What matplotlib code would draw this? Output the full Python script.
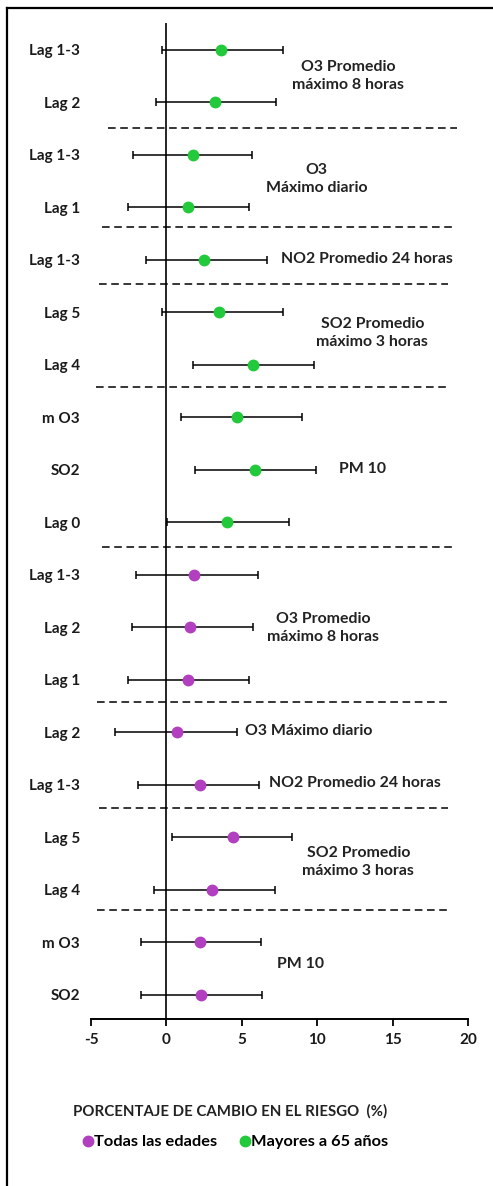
import matplotlib
matplotlib.use('Agg')
import matplotlib.pyplot as plt
from matplotlib.lines import Line2D

plt.rcParams['font.family'] = ['Lato', 'DejaVu Sans']
plt.rcParams['font.weight'] = 'bold'

# Datos: porcentaje de cambio en el riesgo (estimacion e IC 95%)
etiquetas = ['Lag 1-3', 'Lag 2', 'Lag 1-3', 'Lag 1', 'Lag 1-3', 'Lag 5', 'Lag 4',
             'm O3', 'SO2', 'Lag 0',
             'Lag 1-3', 'Lag 2', 'Lag 1', 'Lag 2', 'Lag 1-3', 'Lag 5', 'Lag 4',
             'm O3', 'SO2']
estimacion = [3.65, 3.2, 1.75, 1.45, 2.5, 3.5, 5.75, 4.7, 5.85, 4.05,
              1.85, 1.55, 1.45, 0.7, 2.2, 4.4, 3.0, 2.2, 2.3]
lim_inf = [-0.3, -0.7, -2.2, -2.55, -1.35, -0.3, 1.75, 0.95, 1.9, 0.05,
           -2.0, -2.3, -2.55, -3.4, -1.9, 0.4, -0.85, -1.7, -1.7]
lim_sup = [7.7, 7.3, 5.7, 5.5, 6.7, 7.75, 9.8, 9.0, 9.95, 8.15,
           6.05, 5.75, 5.5, 4.65, 6.15, 8.35, 7.2, 6.25, 6.35]
grupo = ['Mayores a 65 años'] * 10 + ['Todas las edades'] * 9

contaminantes = ['O3 Promedio\nmáximo 8 horas', 'O3\nMáximo diario', 'NO2 Promedio 24 horas',
                 'SO2 Promedio\nmáximo 3 horas', 'PM 10',
                 'O3 Promedio\nmáximo 8 horas', 'O3 Máximo diario', 'NO2 Promedio 24 horas',
                 'SO2 Promedio\nmáximo 3 horas', 'PM 10']

colores = {'Mayores a 65 años': '#22c93a', 'Todas las edades': '#b23ec0'}

fig = plt.figure(figsize=(4.93, 11.86), dpi=100)
ax = fig.add_axes([91 / 493, 1 - 1019 / 1186, 377 / 493, 996 / 1186])

for i in range(len(etiquetas)):
    est = estimacion[i]
    ax.errorbar(est, i, xerr=[[est - lim_inf[i]], [lim_sup[i] - est]], fmt='o',
                color=colores[grupo[i]], ecolor='black', elinewidth=1.1,
                capsize=2.6, capthick=1.1, markersize=7.5, zorder=3)

ax.axvline(0, color='black', lw=1.2, zorder=2)

# lineas punteadas que separan los contaminantes
separadores = [(1.49, -3.9, 19.3), (3.37, -4.25, 18.95), (4.46, -4.45, 18.65),
               (6.42, -4.65, 18.65), (9.47, -4.25, 18.95), (12.42, -4.6, 18.85),
               (14.44, -4.45, 18.7), (16.38, -4.6, 18.85)]
for y, x0, x1 in separadores:
    ax.plot([x0, x1], [y, y], color='black', lw=1.1, dashes=(5, 3), zorder=1)

# nombres de los contaminantes
posiciones = [(12.07, 0.5, 'center'), (9.95, 2.46, 'center'), (7.63, 3.98, 'left'),
              (13.66, 5.39, 'center'), (13.0, 7.98, 'center'),
              (10.41, 11.01, 'center'), (5.24, 12.97, 'left'), (6.83, 13.96, 'left'),
              (12.73, 15.47, 'center'), (8.89, 17.41, 'center')]
for texto, (x, y, ha) in zip(contaminantes, posiciones):
    ax.text(x, y, texto, ha=ha, va='center', fontsize=11.4, fontweight='bold',
            linespacing=1.35, color='#222222', multialignment='center')

ax.set_xlim(-5, 20)
ax.set_ylim(18.46, -0.51)
ax.set_xticks([-5, 0, 5, 10, 15, 20])
ax.set_xticklabels(['-5', '0', '5', '10', '15', '20'])
ax.set_yticks(range(len(etiquetas)))
ax.set_yticklabels(etiquetas)
ax.tick_params(axis='y', length=0, pad=8, labelsize=11)
ax.tick_params(axis='x', length=5, width=1.3, pad=5, labelsize=11)
for lab in ax.get_xticklabels() + ax.get_yticklabels():
    lab.set_fontweight('bold')
    lab.set_color('#1a1a1a')
for s in ['top', 'right', 'left']:
    ax.spines[s].set_visible(False)
ax.spines['bottom'].set_linewidth(1.4)

fig.text(230 / 493, 1 - 1111 / 1186, 'PORCENTAJE DE CAMBIO EN EL RIESGO  (%)',
         ha='center', va='center', fontsize=10.8, fontweight='bold', color='#222222')

handles = [Line2D([], [], marker='o', ls='none', color=colores['Todas las edades'], markersize=7.5),
           Line2D([], [], marker='o', ls='none', color=colores['Mayores a 65 años'], markersize=7.5)]
fig.legend(handles, ['Todas las edades', 'Mayores a 65 años'], loc='center',
           bbox_to_anchor=(236 / 493, 1 - 1142 / 1186), ncol=2, frameon=False,
           handlelength=0.5, handletextpad=0.15, columnspacing=1.4,
           prop={'size': 11.8, 'weight': 'bold'})

# marco de la figura
fig.add_artist(Line2D([7 / 493, 1.0], [1 - 8 / 1186, 1 - 8 / 1186], color='black', lw=1.6,
                      transform=fig.transFigure))
fig.add_artist(Line2D([7 / 493, 7 / 493], [1 - 8 / 1186, 0.0], color='black', lw=1.6,
                      transform=fig.transFigure))

fig.savefig('out.png', dpi=100)
